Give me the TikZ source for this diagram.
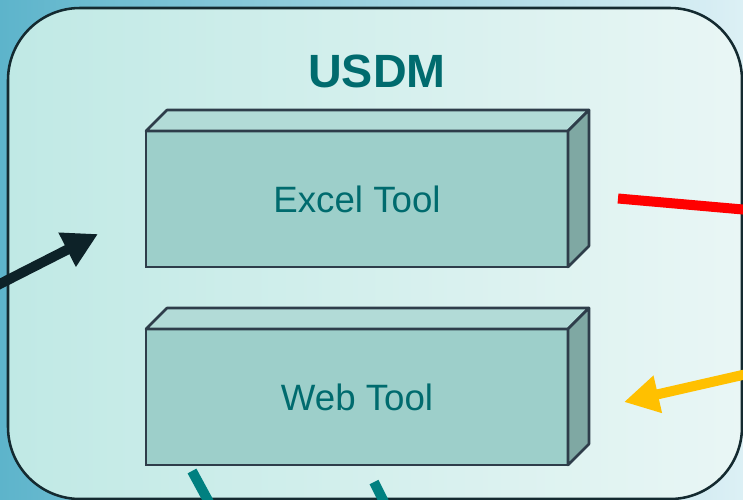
\documentclass[tikz,border=0pt]{standalone}
\usepackage{fontspec}
\setmainfont{Liberation Sans}
\usetikzlibrary{arrows.meta}
\definecolor{bgleft}{HTML}{5DB4CB}
\definecolor{bgright}{HTML}{DCF0F5}
\definecolor{panelleft}{HTML}{C0E9E5}
\definecolor{panelright}{HTML}{E9F6F5}
\definecolor{panelline}{HTML}{142A30}
\definecolor{boxfront}{HTML}{9DCFCA}
\definecolor{boxtop}{HTML}{B2DBD7}
\definecolor{boxside}{HTML}{7FA8A3}
\definecolor{boxline}{HTML}{2E3D4A}
\definecolor{tooltext}{HTML}{006B6E}
\definecolor{linkblack}{HTML}{0D2228}
\definecolor{linkyellow}{HTML}{FFC000}
\definecolor{linkteal}{HTML}{008080}

\begin{document}
\begin{tikzpicture}[x=0.75pt, y=-0.75pt,
    toolbox/.style={draw=boxline, line width=1.9pt, fill=boxfront, outer sep=0pt,
      minimum width=316.5pt, minimum height=102pt, text=tooltext,
      font=\fontsize{27.5}{31}\selectfont},
    boxface/.style={draw=boxline, line width=1.9pt, line join=round},
    link/.style={line width=7.5pt},
    linkhead/.style={-{Triangle[length=26pt, width=27pt]}}]
			%%%%% START %%%%%
			
			\useasboundingbox (0, 0) rectangle (743, 500);
			\clip (0, 0) rectangle (743, 500);
			\shade[left color=bgleft, right color=bgright] (0, 0) rectangle (743, 500);
			
			% USDM panel
			\shade[left color=panelleft, right color=panelright, rounded corners=54pt] (8, 8) rectangle (742, 499);
			\draw[draw=panelline, line width=1.9pt, rounded corners=54pt] (8, 8) rectangle (742, 499);
			\node[text=tooltext, font=\bfseries\fontsize{35}{38}\selectfont] (title) at (377, 71) {USDM};
			
			% tools
			\node[toolbox] (excel) at (357, 199) {Excel Tool};
			\draw[boxface, fill=boxtop] (excel.north west) -- ++(21, -21) -- ++(422, 0) -- (excel.north east) -- cycle;
			\draw[boxface, fill=boxside] (excel.north east) -- ++(21, -21) -- ++(0, 136) -- (excel.south east) -- cycle;
			
			\node[toolbox] (web) at (357, 397) {Web Tool};
			\draw[boxface, fill=boxtop] (web.north west) -- ++(21, -21) -- ++(422, 0) -- (web.north east) -- cycle;
			\draw[boxface, fill=boxside] (web.north east) -- ++(21, -21) -- ++(0, 136) -- (web.south east) -- cycle;
			
			% links from outside
			\coordinate (userin) at (-12, 290);
			\coordinate (usertip) at (98, 234);
			\draw[link, linkhead, draw=linkblack] (userin) -- (usertip);
			
			\coordinate (excelout) at (618, 198.5);
			\coordinate (redend) at (760, 211);
			\draw[link, draw=red] (excelout) -- (redend);
			
			\coordinate (yellowin) at (760, 371);
			\coordinate (webtip) at (624, 402);
			\draw[link, linkhead, draw=linkyellow] (yellowin) -- (webtip);
			
			\coordinate (webleft) at (192, 471);
			\coordinate (webleftend) at (211, 506);
			\draw[link, draw=linkteal] (webleft) -- (webleftend);
			\coordinate (webright) at (374, 482);
			\coordinate (webrightend) at (386, 506);
			\draw[link, draw=linkteal] (webright) -- (webrightend);
			
			%%%%% END %%%%%
\end{tikzpicture}
\end{document}
